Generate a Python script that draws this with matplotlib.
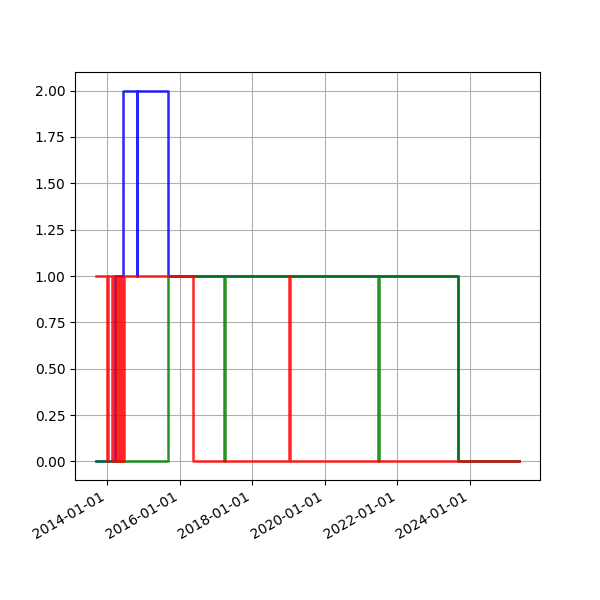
import numpy as np
import pandas as pd
import matplotlib
matplotlib.use('Agg')
import matplotlib.pyplot as plt
import matplotlib.dates as mdates

# step series: (date, value), held until next date
blue_dates = ['2013-09-14', '2014-03-22', '2014-06-10', '2014-10-27', '2014-11-03',
              '2015-09-04', '2023-09-03', '2025-05-07']
blue_vals = [0, 1, 2, 1, 2, 1, 0, 0]

green_dates = ['2013-09-14', '2015-09-04', '2017-03-26', '2017-04-02', '2021-06-18',
               '2021-06-25', '2023-09-03', '2025-05-07']
green_vals = [0, 1, 0, 1, 0, 1, 0, 0]

red_dates = ['2013-09-14', '2014-01-06', '2014-01-14', '2014-02-24', '2014-03-02',
             '2014-04-01', '2014-04-07', '2014-04-13', '2014-04-19', '2014-04-25',
             '2014-05-01', '2014-05-07', '2014-05-13', '2014-05-19', '2014-05-25',
             '2014-05-31', '2014-06-06', '2014-06-12', '2014-06-17',
             '2016-05-20', '2019-01-06', '2019-01-14', '2025-05-07']
red_vals = [1, 0, 1, 0, 1,
            0, 1, 0, 1, 0,
            1, 0, 1, 0, 1,
            0, 1, 0, 1,
            0, 1, 0, 0]

fig = plt.figure(figsize=(6, 6), dpi=100)
ax = fig.add_subplot(111)

ax.plot(pd.to_datetime(blue_dates), blue_vals, color='b', drawstyle='steps-post', lw=1.8, alpha=0.85)
ax.plot(pd.to_datetime(green_dates), green_vals, color='g', drawstyle='steps-post', lw=1.8, alpha=0.85)
ax.plot(pd.to_datetime(red_dates), red_vals, color='r', drawstyle='steps-post', lw=1.8, alpha=0.85)

ax.xaxis.set_major_locator(mdates.YearLocator(2))
ax.xaxis.set_major_formatter(mdates.DateFormatter('%Y-%m-%d'))
ax.grid(True)
fig.autofmt_xdate()

plt.savefig('out.png')
